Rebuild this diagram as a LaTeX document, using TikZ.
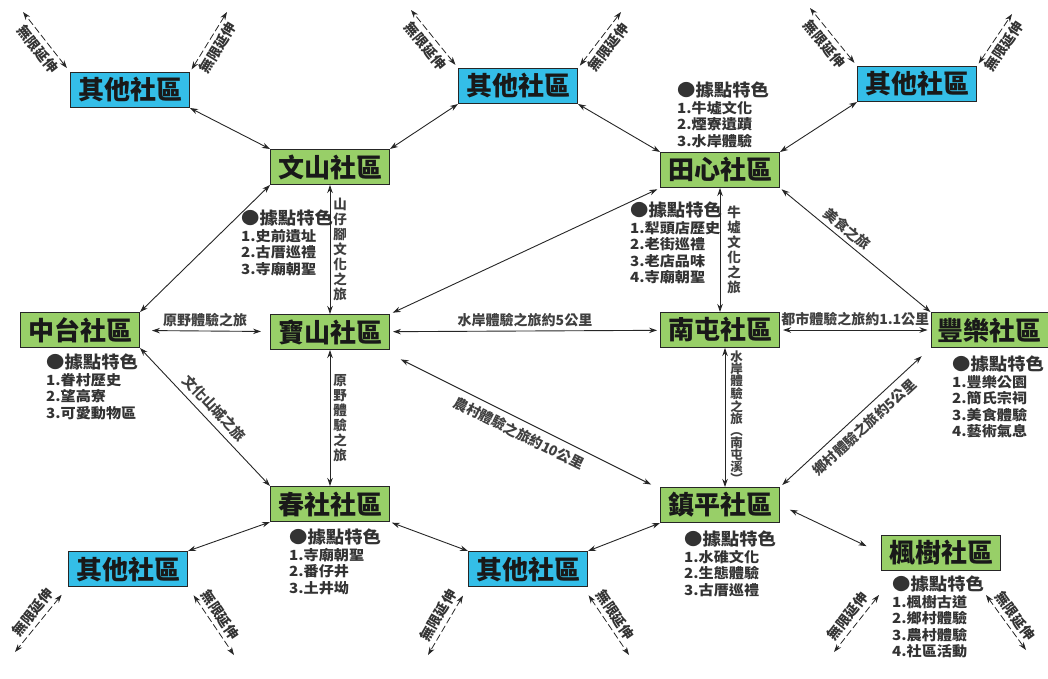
\documentclass[tikz,border=0pt]{standalone}
\usepackage{fontspec}
\setmainfont{Noto Sans CJK TC}
\newfontfamily\listfont{Noto Sans CJK TC}[FakeStretch=1.08]
\usetikzlibrary{arrows.meta,calc}
\tikzset {>={Stealth[length=8pt,width=5.5pt]}}
\definecolor{commgreen}{RGB}{152,207,104}
\definecolor{othercyan}{RGB}{52,190,232}
\tikzset{
  comm/.style={draw=black!85, fill=commgreen, line width=1pt, minimum width=119pt,
    minimum height=35pt, inner sep=0pt, text=black!90,
    font=\fontsize{26}{26}\selectfont\bfseries},
  other/.style={comm, fill=othercyan},
  link/.style={<->, line width=0.9pt, draw=black!85},
  ext/.style={<->, line width=0.8pt, dash pattern=on 7pt off 3pt, draw=black!85},
  lbl/.style={font=\fontsize{14}{14}\selectfont\bfseries, text=black!75, inner sep=3pt},
  vlbl/.style={lbl, align=center, font=\fontsize{13.5}{15}\selectfont\bfseries},
  extlbl/.style={font=\fontsize{14}{14}\selectfont\bfseries, text=black!80, inner sep=4pt},
  feat/.style={align=left, anchor=north west, inner sep=0pt, text=black!80,
    font=\listfont\fontsize{14}{16.5}\selectfont\bfseries},
}
\newcommand{\feathead}{{\fontsize{17}{19}\selectfont ●據點特色}}

\begin{document}
\begin{tikzpicture}[x=1pt,y=-1pt]
\useasboundingbox (0,0) rectangle (1048,679);

% communities
\node[comm] (wenshan) at (330,167) {文山社區};
\node[comm] (tianxin) at (720,170) {田心社區};
\node[comm] (zhongtai) at (80,330) {中台社區};
\node[comm] (baoshan) at (330,332) {寶山社區};
\node[comm] (nantun) at (720,330) {南屯社區};
\node[comm, minimum width=117pt] (fengle) at (989.5,330) {豐樂社區};
\node[comm] (chunshe) at (330,504) {春社社區};
\node[comm] (zhenping) at (720,505) {鎮平社區};
\node[comm] (fengshu) at (941,553) {楓樹社區};

% other communities
\node[other] (o1) at (130,90) {其他社區};
\node[other] (o2) at (518,86) {其他社區};
\node[other] (o3) at (917,84) {其他社區};
\node[other] (o4) at (128,569) {其他社區};
\node[other] (o5) at (528,569) {其他社區};

% features
\node[feat] (ftianxin) at (677,82) {\feathead\\1.牛墟文化\\2.煙寮遺蹟\\3.水岸體驗};
\node[feat] (fwenshan) at (241,210) {\feathead\\1.史前遺址\\2.古厝巡禮\\3.寺廟朝聖};
\node[feat] (fnantun) at (630,202) {\feathead\\1.犁頭店歷史\\2.老街巡禮\\3.老店品味\\4.寺廟朝聖};
\node[feat] (fzhongtai) at (46,354) {\feathead\\1.眷村歷史\\2.望高寮\\3.可愛動物區};
\node[feat] (ffengle) at (952,356) {\feathead\\1.豐樂公園\\2.簡氏宗祠\\3.美食體驗\\4.藝術氣息};
\node[feat] (fchunshe) at (289,529) {\feathead\\1.寺廟朝聖\\2.番仔井\\3.土井坳};
\node[feat] (fzhenping) at (684,531) {\feathead\\1.水碓文化\\2.生態體驗\\3.古厝巡禮};
\node[feat] (ffengshu) at (892,576) {\feathead\\1.楓樹古道\\2.鄉村體驗\\3.農村體驗\\4.社區活動};

% routes
\draw[link] (o1.south east) -- (wenshan.north west);
\draw[link] (wenshan.north east) -- (o2.south west);
\draw[link] (o2.south east) -- (tianxin.north west);
\draw[link] (tianxin.north east) -- (o3.south west);
\draw[link] (zhongtai.north east) -- (wenshan.south west);
\draw[link] (wenshan) -- (baoshan)
  node[midway, right, vlbl] (lshanzai) {山\\仔\\腳\\文\\化\\之\\旅};
\draw[link, shorten <=12pt, shorten >=9pt] (zhongtai) -- (baoshan)
  node[midway, above=1pt, lbl] (lyuanye) {原野體驗之旅};
\draw[link] (zhongtai.south east) -- (chunshe.north west)
  node[midway, sloped, above=3pt, lbl] (lshancheng) {文化山城之旅};
\draw[link] (baoshan) -- (chunshe)
  node[midway, right, vlbl] (lyuanye2) {原\\野\\體\\驗\\之\\旅};
\draw[link, shorten <=3pt, shorten >=3pt] (baoshan.north east) -- (tianxin.south west);
\draw[link, shorten <=3pt, shorten >=3pt] (baoshan) -- (nantun)
  node[midway, above=1pt, lbl] (lshuian) {水岸體驗之旅約5公里};
\draw[link, shorten <=12pt, shorten >=10pt] ([yshift=-4pt]baoshan.south east) -- ([yshift=-2pt]zhenping.north west)
  node[midway, sloped, below=3pt, lbl] (lnongcun) {農村體驗之旅約10公里};
\draw[link] (tianxin) -- (nantun)
  node[midway, right=4pt, vlbl] (lniuxu) {牛\\墟\\文\\化\\之\\旅};
\draw[link, shorten <=2pt] (tianxin.south east) -- (fengle.north west)
  node[pos=0.4, sloped, above=1pt, lbl] (lmeishi) {美食之旅};
\draw[link, shorten <=3pt, shorten >=3pt] (nantun) -- (fengle)
  node[midway, above=1pt, lbl] (ldushi) {都市體驗之旅約1.1公里};
\draw[link] ([xshift=5pt]nantun.south) -- ([xshift=5pt]zhenping.north)
  node[midway, right=2pt, vlbl, font=\fontsize{12.5}{12}\selectfont\bfseries] (lnantunxi) {水\\岸\\體\\驗\\之\\旅\\︵\\南\\屯\\溪\\︶};
\draw[link, shorten <=3pt, shorten >=12pt] (zhenping.north east) -- (fengle.south west)
  node[midway, sloped, below=3pt, lbl] (lxiangcun) {鄉村體驗之旅約5公里};
\draw[link] (chunshe.south west) -- (o4.north east);
\draw[link, shorten <=2pt] (chunshe.south east) -- (o5.north west);
\draw[link] (zhenping.south west) -- (o5.north east);
\draw[link, shorten <=11pt, shorten >=16pt] (zhenping.east) -- (fengshu.west);

% endless extension
\draw[ext, shorten <=5pt] (o1.north west) -- ++(-47,-60)
  node[midway, sloped, below, extlbl] (e1l) {無限延伸};
\draw[ext, shorten <=3pt] (o1.north east) -- ++(37,-60)
  node[midway, sloped, below, extlbl] (e1r) {無限延伸};
\draw[ext, shorten <=4pt] (o2.north west) -- ++(-47,-58)
  node[midway, sloped, below, extlbl] (e2l) {無限延伸};
\draw[ext, shorten <=3pt] (o2.north east) -- ++(43,-56)
  node[midway, sloped, below, extlbl] (e2r) {無限延伸};
\draw[ext, shorten <=4pt] (o3.north west) -- ++(-47,-58)
  node[midway, sloped, below, extlbl] (e3l) {無限延伸};
\draw[ext, shorten <=3pt] (o3.north east) -- ++(35,-52)
  node[midway, sloped, below, extlbl] (e3r) {無限延伸};
\draw[ext, shorten <=10pt] (o4.south west) -- ++(-53,65)
  node[midway, sloped, above, extlbl] (e4l) {無限延伸};
\draw[ext, shorten <=10pt] (o4.south east) -- ++(46,68)
  node[midway, sloped, above, extlbl] (e4r) {無限延伸};
\draw[ext, shorten <=10pt] (o5.south west) -- ++(-40,68)
  node[midway, sloped, above, extlbl] (e5l) {無限延伸};
\draw[ext, shorten <=10pt] ([xshift=-5pt]o5.south east) -- ++(46,68)
  node[midway, sloped, above, extlbl] (e5r) {無限延伸};
\coordinate (fsl) at ([shift={(-2,24)}]fengshu.south west);
\coordinate (fsr) at ([shift={(-15,24)}]fengshu.south east);
\draw[ext] (fsl) -- ++(-45,57)
  node[midway, sloped, above, extlbl] (e6l) {無限延伸};
\draw[ext] (fsr) -- ++(40,55)
  node[midway, sloped, above, extlbl] (e6r) {無限延伸};
\end{tikzpicture}
\end{document}
